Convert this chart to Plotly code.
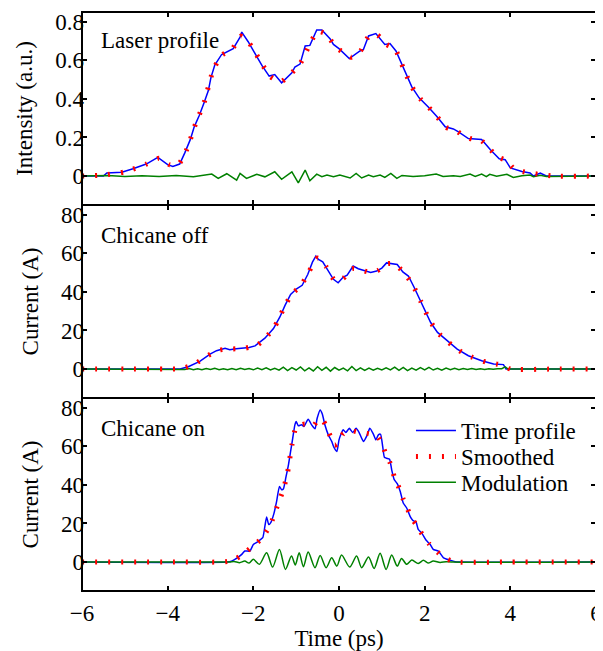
import plotly.graph_objects as go
from plotly.subplots import make_subplots

# ---------------- Panel 1: Laser profile ----------------
t_laser = [-6.0, -5.5, -5.42, -5.07, -4.81, -4.5, -4.23, -4.0, -3.88, -3.72, -3.6, -3.47, -3.38, -3.26,
           -3.15, -3.05, -2.99, -2.9, -2.74, -2.62, -2.47, -2.31, -2.27, -2.12, -1.95, -1.8, -1.63, -1.5,
           -1.34, -1.1, -1.03, -0.91, -0.79, -0.68, -0.52, -0.4, -0.21, -0.13, 0.0, 0.24, 0.49, 0.57,
           0.69, 0.86, 1.07, 1.19, 1.33, 1.45, 1.58, 1.7, 1.87, 2.09, 2.28, 2.48, 2.67, 2.79, 3.02,
           3.33, 3.53, 3.74, 3.88, 4.0, 4.27, 4.46, 4.54, 4.7, 4.84, 6.0]
i_laser = [0.0, 0.0, 0.016, 0.02, 0.038, 0.062, 0.097, 0.059, 0.05, 0.062, 0.12, 0.19, 0.255, 0.315,
           0.38, 0.443, 0.51, 0.575, 0.63, 0.644, 0.66, 0.72, 0.746, 0.696, 0.63, 0.573, 0.518, 0.526,
           0.483, 0.535, 0.565, 0.58, 0.674, 0.677, 0.757, 0.757, 0.712, 0.682, 0.66, 0.609, 0.648, 0.656,
           0.726, 0.738, 0.682, 0.687, 0.648, 0.587, 0.518, 0.462, 0.405, 0.357, 0.31, 0.255, 0.244, 0.229, 0.194,
           0.189, 0.137, 0.09, 0.085, 0.042, 0.024, 0.016, 0.0, 0.015, 0.0, 0.0]

t_laser_s = [-6.0, -5.5, -5.0, -4.5, -4.2, -3.95, -3.75, -3.55, -3.35, -3.15, -2.95, -2.75, -2.5, -2.3,
             -2.1, -1.85, -1.6, -1.35, -1.1, -0.9, -0.7, -0.5, -0.3, -0.1, 0.1, 0.3, 0.5, 0.7, 0.9, 1.1,
             1.3, 1.5, 1.7, 1.9, 2.1, 2.3, 2.5, 2.7, 2.9, 3.1, 3.3, 3.5, 3.7, 3.9, 4.1, 4.4, 4.7, 5.0, 6.0]
i_laser_s = [0.0, 0.005, 0.022, 0.062, 0.092, 0.058, 0.06, 0.14, 0.27, 0.38, 0.54, 0.625, 0.655, 0.725,
             0.69, 0.6, 0.515, 0.49, 0.535, 0.585, 0.675, 0.75, 0.735, 0.675, 0.64, 0.615, 0.648, 0.725, 0.73, 0.683,
             0.66, 0.56, 0.462, 0.4, 0.355, 0.305, 0.252, 0.24, 0.21, 0.192, 0.188, 0.145, 0.1, 0.08, 0.035, 0.018,
             0.008, 0.0, 0.0]

t_laser_m = [-6.0, -5.4, -5.0, -4.6, -4.2, -3.8, -3.4, -3.15, -2.97, -2.82, -2.62, -2.39, -2.31, -2.16,
             -1.92, -1.73, -1.5, -1.34, -1.1, -0.95, -0.79, -0.68, -0.52, -0.4, -0.28, -0.13, 0.02, 0.26,
             0.4, 0.53, 0.69, 0.8, 0.96, 1.07, 1.21, 1.35, 1.47, 1.73, 2.0, 2.27, 2.43, 2.67, 2.83, 3.06,
             3.18, 3.33, 3.44, 3.52, 3.68, 3.92, 4.07, 4.27, 4.46, 4.54, 4.7, 4.84, 6.0]
i_laser_m = [0.0, 0.003, -0.002, 0.002, -0.002, 0.003, -0.003, 0.004, 0.01, -0.012, 0.012, -0.021, 0.014, -0.012,
             0.009, -0.004, 0.022, -0.017, 0.022, -0.035, 0.031, -0.024, 0.01, -0.003, 0.005, -0.003, 0.005, -0.01,
             0.014, -0.01, 0.005, -0.003, 0.005, -0.007, 0.014, -0.012, 0.003, -0.002, 0.001, 0.01, -0.002, 0.002,
             -0.002, 0.01, -0.002, 0.01, -0.003, 0.009, -0.001, 0.009, -0.007, 0.002, 0.005, -0.003, 0.004, -0.002, 0.0]

# ---------------- Panel 2: Chicane off ----------------
t_off = [-6.0, -3.71, -3.52, -3.25, -3.01, -2.86, -2.66, -2.55, -2.4, -2.25, -2.1, -1.96, -1.73, -1.53,
         -1.38, -1.26, -1.13, -0.99, -0.86, -0.73, -0.62, -0.54, -0.48, -0.38, -0.23, -0.13, -0.02, 0.1,
         0.19, 0.33, 0.45, 0.57, 0.74, 0.88, 1.0, 1.11, 1.25, 1.36, 1.49, 1.62, 1.75, 1.88, 2.01, 2.14,
         2.3, 2.52, 2.76, 3.02, 3.33, 3.61, 3.84, 3.9, 6.0]
i_off = [0.0, 0.0, 1.2, 4.0, 7.7, 9.5, 10.7, 10.0, 10.5, 10.7, 11.2, 12.0, 16.0, 21.0,
         27.0, 33.0, 38.7, 41.6, 43.4, 49.0, 55.4, 58.5, 56.8, 55.6, 50.0, 46.5, 44.7, 47.7,
         48.7, 53.4, 52.0, 51.0, 50.0, 50.8, 52.3, 55.0, 54.7, 54.2, 50.3, 48.2, 42.5, 36.1, 30.1, 24.1,
         19.0, 14.7, 10.3, 6.9, 4.3, 2.6, 2.3, 0.0, 0.0]

t_off_s = [-6.0, -5.0, -4.0, -3.7, -3.4, -3.1, -2.8, -2.5, -2.2, -1.9, -1.7, -1.5, -1.3, -1.1, -0.9,
           -0.7, -0.5, -0.3, -0.1, 0.1, 0.3, 0.5, 0.7, 0.9, 1.1, 1.3, 1.5, 1.7, 1.9, 2.1, 2.3, 2.5, 2.7,
           2.9, 3.1, 3.3, 3.5, 3.7, 3.88, 4.0, 5.0, 6.0]
i_off_s = [0.0, 0.0, 0.0, 0.2, 2.2, 6.5, 9.8, 10.4, 10.8, 12.5, 16.5, 22.0, 31.0, 39.0, 42.8,
           50.5, 57.5, 53.0, 46.0, 47.0, 52.0, 51.5, 50.2, 51.0, 54.5, 54.5, 50.2, 44.5, 35.5, 26.0, 19.0, 15.0, 11.2,
           8.3, 6.2, 4.5, 3.2, 2.5, 1.5, 0.0, 0.0, 0.0]

t_off_m = [-6.0, -3.8, -3.7, -3.6, -3.5, -3.4, -3.3, -3.2, -3.1, -3.0, -2.9, -2.8, -2.7, -2.6, -2.5,
           -2.4, -2.3, -2.2, -2.1, -2.0, -1.9, -1.8, -1.7, -1.6, -1.5, -1.4, -1.3, -1.2, -1.1, -1.0,
           -0.9, -0.8, -0.7, -0.6, -0.5, -0.4, -0.3, -0.2, -0.1, 0.0, 0.1, 0.2, 0.3, 0.4, 0.5, 0.6,
           0.7, 0.8, 0.9, 1.0, 1.1, 1.2, 1.3, 1.4, 1.5, 1.6, 1.7, 1.8, 1.9, 2.0, 2.1, 2.2, 2.3, 2.4,
           2.5, 2.6, 2.7, 2.8, 2.9, 3.0, 3.1, 3.2, 3.3, 3.4, 3.5, 3.6, 3.7, 3.8, 3.88, 3.95, 6.0]
i_off_m = [0.0, 0.0, 0.1, -0.2, 0.3, -0.3, 0.2, -0.4, 0.3, -0.2, 0.4, -0.3, 0.2, -0.4, 0.3,
           -0.3, 0.4, -0.2, 0.3, -0.4, 0.5, -0.3, 0.6, -0.5, 0.4, -0.6, 1.0, -0.8, 0.7, -0.5,
           1.1, -0.9, 0.6, -1.0, 1.2, -0.7, 0.9, -1.1, 0.8, -0.6, 0.5, -0.9, 1.3, -0.8, 0.6, -0.7,
           0.5, -0.6, 0.4, -0.5, 0.6, -0.4, 1.0, -0.7, 0.9, -0.8, 0.5, -0.6, 0.7, -0.4, 0.9, -0.5, 0.4, -0.6,
           0.5, -0.3, 0.4, -0.3, 0.3, -0.2, 0.3, -0.2, 0.2, -0.2, 0.2, -0.1, 0.1, 0.2, 1.1, 0.0, 0.0]

# ---------------- Panel 3: Chicane on ----------------
t_on = [-6.0, -2.6, -2.51, -2.43, -2.27, -2.2, -2.08, -2.0, -1.91, -1.85, -1.78, -1.73, -1.69, -1.64,
        -1.59, -1.52, -1.46, -1.39, -1.34, -1.3, -1.24, -1.18, -1.13, -1.08, -1.03, -1.0, -0.95, -0.87,
        -0.82, -0.72, -0.64, -0.56, -0.51, -0.44, -0.39, -0.33, -0.25, -0.17, -0.12, -0.05, 0.0, 0.05,
        0.1, 0.16, 0.24, 0.32, 0.4, 0.47, 0.57, 0.65, 0.72, 0.8, 0.86, 0.92, 0.97, 1.02, 1.06, 1.11,
        1.18, 1.23, 1.29, 1.36, 1.43, 1.5, 1.58, 1.66, 1.72, 1.8, 1.85, 1.93, 2.03, 2.13, 2.2, 2.32,
        2.44, 2.59, 2.71, 2.8, 6.0]
i_on = [0.0, 0.0, 0.5, 1.4, 4.0, 5.7, 5.7, 9.1, 10.3, 11.4, 12.6, 18.6, 23.4, 19.4,
        20.6, 25.1, 31.0, 39.2, 37.5, 37.8, 43.9, 50.4, 57.3, 64.2, 71.1, 72.8, 70.6, 71.1,
        70.2, 74.0, 71.1, 69.0, 74.5, 78.8, 76.7, 71.1, 65.9, 62.5, 59.5, 57.3, 63.3, 66.5,
        68.5, 67.1, 69.3, 67.1, 69.3, 67.1, 62.5, 65.4, 69.3, 66.4, 63.3, 65.9, 66.2, 59.9, 54.3, 53.8,
        53.3, 47.8, 42.7, 40.6, 36.6, 30.6, 28.0, 23.7, 21.7, 20.6, 16.9, 15.1, 11.4, 9.1, 6.6, 5.7,
        2.2, 1.0, 0.2, 0.0, 0.0]

t_on_s = [-6.0, -4.0, -2.8, -2.6, -2.4, -2.2, -2.0, -1.8, -1.6, -1.4, -1.3, -1.2, -1.1, -1.0, -0.9,
          -0.8, -0.6, -0.5, -0.4, -0.3, -0.2, -0.1, 0.0, 0.1, 0.3, 0.5, 0.7, 0.9, 1.0, 1.1, 1.2, 1.3,
          1.4, 1.5, 1.6, 1.7, 1.8, 1.9, 2.0, 2.1, 2.2, 2.3, 2.4, 2.5, 2.6, 2.75, 4.0, 6.0]
i_on_s = [0.0, 0.0, 0.0, 0.3, 1.8, 4.8, 8.5, 12.3, 19.5, 31.5, 37.5, 46.5, 60.5, 70.0, 71.0,
          71.5, 70.5, 73.5, 74.0, 70.5, 65.0, 60.5, 62.0, 66.5, 68.0, 67.0, 66.5, 65.0, 61.5, 55.5, 51.0, 43.5,
          38.5, 32.5, 27.5, 22.5, 19.5, 15.8, 12.5, 9.5, 7.2, 5.2, 3.2, 1.8, 0.8, 0.0, 0.0, 0.0]

t_on_m = [-6.0, -2.7, -2.55, -2.45, -2.32, -2.2, -2.1, -2.0, -1.86, -1.69, -1.55, -1.39, -1.25, -1.11,
          -1.02, -0.93, -0.83, -0.72, -0.56, -0.44, -0.3, -0.17, -0.05, 0.06, 0.25, 0.41, 0.53, 0.69,
          0.82, 0.96, 1.1, 1.23, 1.36, 1.46, 1.58, 1.7, 1.85, 1.97, 2.08, 2.2, 2.36, 2.5, 2.65, 6.0]
i_on_m = [0.0, 0.0, 0.0, 0.3, -0.3, 0.5, -0.5, 1.4, -1.2, 4.8, -2.6, 6.5, -3.8, 3.1,
          -1.5, 4.8, -2.4, 5.2, -2.9, 3.4, -2.9, 2.2, -2.1, 3.6, -2.6, 3.1, -2.9, 2.6,
          -3.3, 4.5, -3.8, 3.6, -2.1, 1.9, -1.2, 1.0, -0.7, 0.9, -0.5, 0.5, -0.2, 0.2, 0.0, 0.0]

panel_labels = ["Laser profile", "Chicane off", "Chicane on"]
y_titles = ["Intensity (a.u.)", "Current (A)", "Current (A)"]
x_ticks = [-6, -4, -2, 0, 2, 4, 6]
y_ticks_top = [0, 0.2, 0.4, 0.6, 0.8]
y_ticks_cur = [0, 20, 40, 60, 80]

BLUE = "#0000ff"
RED = "#ff0000"
GREEN = "#008000"
FONT = "Liberation Serif"
FS = 23

fig = make_subplots(rows=3, cols=1, shared_xaxes=True, vertical_spacing=0)

panels = [
    (t_laser, i_laser, t_laser_s, i_laser_s, t_laser_m, i_laser_m, "linear"),
    (t_off, i_off, t_off_s, i_off_s, t_off_m, i_off_m, "linear"),
    (t_on, i_on, t_on_s, i_on_s, t_on_m, i_on_m, "spline"),
]

for r, (tb, ib, ts, is_, tm, im, shape) in enumerate(panels, start=1):
    show = (r == 3)
    fig.add_trace(go.Scatter(x=tb, y=ib, mode="lines", name="Time profile",
                             line=dict(color=BLUE, width=1.5, shape=shape, smoothing=0.5),
                             showlegend=show, legend="legend"), row=r, col=1)
    fig.add_trace(go.Scatter(x=tm, y=im, mode="lines", name="Modulation",
                             line=dict(color=GREEN, width=1.5, shape=shape, smoothing=0.8),
                             showlegend=show, legend="legend3"), row=r, col=1)
    fig.add_trace(go.Scatter(x=ts, y=is_, mode="lines", name="Smoothed",
                             line=dict(color=RED, width=5, dash="2px,11px", shape="spline", smoothing=0.6),
                             showlegend=show, legend="legend2"), row=r, col=1)

axis_common = dict(showline=False, mirror="ticks", automargin=False, ticklabeloverflow="allow",
                   ticks="inside", ticklen=5, tickwidth=1.5, tickcolor="black",
                   showgrid=False, zeroline=False,
                   tickfont=dict(family=FONT, size=FS, color="black"))

for r in range(1, 4):
    fig.update_xaxes(range=[-6, 6], tickvals=x_ticks, row=r, col=1, **axis_common)
fig.update_xaxes(title=dict(text="Time (ps)", font=dict(family=FONT, size=FS, color="black"), standoff=7),
                 ticklabelstandoff=6, row=3, col=1)

fig.update_yaxes(range=[-0.15, 0.85], tickvals=y_ticks_top, ticktext=["0", "0.2", "0.4", "0.6", "0.8"],
                 row=1, col=1, **axis_common)
fig.update_yaxes(range=[-15, 85], tickvals=y_ticks_cur, row=2, col=1, **axis_common)
fig.update_yaxes(range=[-15, 85], tickvals=y_ticks_cur, row=3, col=1, **axis_common)
title_standoff = [16, 15, 15]
for r in range(1, 4):
    fig.update_yaxes(title=dict(text=y_titles[r - 1], font=dict(family=FONT, size=FS, color="black"),
                                standoff=title_standoff[r - 1]),
                     ticklabelstandoff=-3, row=r, col=1)

# frame around each panel
for xr, yr in [("x", "y"), ("x2", "y2"), ("x3", "y3")]:
    fig.add_shape(type="rect", xref=xr + " domain", yref=yr + " domain", x0=0, x1=1, y0=0, y1=1,
                  line=dict(color="black", width=2), fillcolor="rgba(0,0,0,0)", layer="above")

label_y = [0.951, 0.6136, 0.2806]
for txt, yy in zip(panel_labels, label_y):
    fig.add_annotation(text=txt, xref="paper", yref="paper", x=0.034, y=yy,
                       xanchor="left", yanchor="middle", showarrow=False,
                       font=dict(family=FONT, size=FS, color="black"))

leg_common = dict(x=0.64, xanchor="left", yanchor="middle", bgcolor="rgba(0,0,0,0)",
                  borderwidth=0, itemwidth=40, font=dict(family=FONT, size=FS, color="black"))

fig.update_layout(
    width=595, height=643,
    margin=dict(l=74, r=7, t=4, b=60),
    paper_bgcolor="white", plot_bgcolor="white",
    font=dict(family=FONT, size=FS, color="black"),
    legend=dict(y=0.2771, **leg_common),
    legend2=dict(y=0.2324, **leg_common),
    legend3=dict(y=0.1876, **leg_common),
)

fig.write_html("out.html")
